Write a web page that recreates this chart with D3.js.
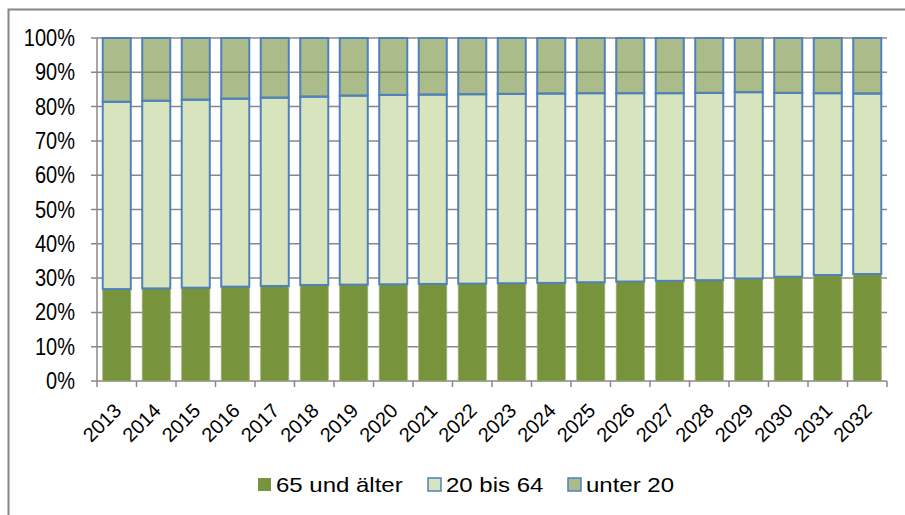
<!DOCTYPE html>
<html>
<head>
<meta charset="utf-8">
<script src="https://cdn.jsdelivr.net/npm/d3@7"></script>
<style>
  body { margin: 0; background: #fff; }
  svg text { font-family: "Liberation Sans", Arial, sans-serif; fill: #000; }
</style>
</head>
<body>
<svg id="chart" width="905" height="515"></svg>
<script>
// years on the x axis
const years = ['2013', '2014', '2015', '2016', '2017', '2018', '2019', '2020', '2021', '2022',
               '2023', '2024', '2025', '2026', '2027', '2028', '2029', '2030', '2031', '2032'];
// shares in percent
const alt65 = [26.8, 27.0, 27.2, 27.5, 27.7, 28.0, 28.1, 28.2, 28.3, 28.4,
               28.5, 28.6, 28.8, 29.0, 29.2, 29.4, 29.9, 30.4, 30.9, 31.2];
const mitte = [54.6, 54.7, 54.8, 54.8, 54.9, 54.9, 55.1, 55.2, 55.2, 55.2,
               55.2, 55.2, 55.1, 54.9, 54.7, 54.6, 54.3, 53.6, 53.0, 52.6];
const jung = [18.6, 18.3, 18.0, 17.7, 17.4, 17.1, 16.8, 16.6, 16.5, 16.4,
              16.3, 16.2, 16.1, 16.1, 16.1, 16.0, 15.8, 16.0, 16.1, 16.2];
const seriesNames = ['65 und älter', '20 bis 64', 'unter 20'];
const yTicks = [0, 10, 20, 30, 40, 50, 60, 70, 80, 90, 100];

const keys = ['a', 'b', 'c'];
const rows = years.map((y, i) => ({ year: y, a: alt65[i], b: mitte[i], c: jung[i] }));

const fills = ['#77933c', '#d7e4bd', 'rgba(115,142,60,0.6)'];
const strokes = ['#9fb079', '#4f81bd', '#4f81bd'];

const svg = d3.select('#chart');
const plotLeft = 97, plotRight = 887, plotTop = 38, plotBottom = 381;

const x = d3.scaleBand().domain(years).range([plotLeft, plotRight]).paddingInner(0.29).paddingOuter(0.145);
const xTicks = d3.scaleBand().domain(years).range([plotLeft, plotRight]);
const y = d3.scaleLinear().domain([0, 100]).range([plotBottom, plotTop]);

// outer frame (only top and left edge visible)
svg.append('path')
    .attr('d', 'M8.5,515 L8.5,9.5 L905,9.5')
    .attr('fill', 'none')
    .attr('stroke', '#868686')
    .attr('stroke-width', 2);

// gridlines
svg.append('g')
    .selectAll('line')
    .data(yTicks)
    .enter()
    .append('line')
    .attr('x1', plotLeft - 6)
    .attr('x2', plotRight)
    .attr('y1', d => y(d))
    .attr('y2', d => y(d))
    .attr('stroke', '#888')
    .attr('stroke-width', 1.5);

// y axis line
svg.append('line')
    .attr('x1', plotLeft).attr('x2', plotLeft)
    .attr('y1', plotTop).attr('y2', plotBottom)
    .attr('stroke', '#888').attr('stroke-width', 1.5);

// x ticks
svg.append('g')
    .selectAll('line')
    .data(years.concat(['end']))
    .enter()
    .append('line')
    .attr('x1', d => d === 'end' ? plotRight : xTicks(d))
    .attr('x2', d => d === 'end' ? plotRight : xTicks(d))
    .attr('y1', plotBottom)
    .attr('y2', plotBottom + 6)
    .attr('stroke', '#888')
    .attr('stroke-width', 1.5);

// y labels
svg.append('g')
    .selectAll('text')
    .data(yTicks)
    .enter()
    .append('text')
    .attr('text-anchor', 'end')
    .attr('transform', d => 'translate(75,' + (y(d) + 8) + ') scale(1,1.15)')
    .style('font-size', '20px')
    .text(d => d + '%');

// stacked bars
const stacked = d3.stack().keys(keys)(rows);
svg.append('g')
    .selectAll('g')
    .data(stacked)
    .enter()
    .append('g')
    .attr('fill', (d, i) => fills[i])
    .attr('stroke', (d, i) => strokes[i])
    .attr('stroke-width', (d, i) => i === 0 ? 0.8 : 2)
    .selectAll('rect')
    .data(d => d)
    .enter()
    .append('rect')
    .attr('x', d => x(d.data.year))
    .attr('y', d => y(d[1]))
    .attr('width', x.bandwidth())
    .attr('height', d => y(d[0]) - y(d[1]));

// x labels rotated
svg.append('g')
    .selectAll('text')
    .data(years)
    .enter()
    .append('text')
    .attr('text-anchor', 'end')
    .attr('transform', d => 'translate(' + (x(d) + x.bandwidth() / 2 - 4) + ',' + (plotBottom + 21) + ') rotate(-45)')
    .attr('dy', '0.7em')
    .style('font-size', '20px')
    .text(d => d);

// legend
const legendX = [258, 428, 568];
const legend = svg.append('g')
    .selectAll('g')
    .data(seriesNames)
    .enter()
    .append('g')
    .attr('transform', (d, i) => 'translate(' + legendX[i] + ',478)');
legend.append('rect')
    .attr('width', 13)
    .attr('height', 13)
    .attr('fill', (d, i) => fills[i])
    .attr('stroke', (d, i) => i === 0 ? 'none' : strokes[i])
    .attr('stroke-width', 1.5);
legend.append('text')
    .attr('transform', 'translate(18,14) scale(1.2,1)')
    .style('font-size', '20px')
    .text(d => d);
</script>
</body>
</html>
